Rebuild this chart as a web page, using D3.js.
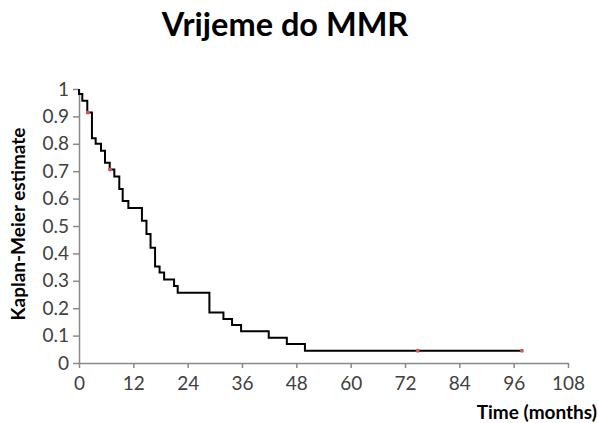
<!DOCTYPE html>
<html><head><meta charset="utf-8">
<script src="https://cdn.jsdelivr.net/npm/d3@7"></script>
<style>body{margin:0;background:#fff}svg{display:block}</style>
</head><body>
<svg id="c" width="598" height="423"></svg>
<script>
const eventTimes = [0, 0.73, 1.83, 2.86, 3.68, 4.86, 5.74, 6.78, 7.8, 8.9, 9.65, 10.9, 13.9, 14.9, 15.8, 16.8, 17.8, 18.8, 21.0, 21.8, 28.8, 31.9, 33.8, 35.8, 41.9, 45.9, 49.9];
const survival   = [0.982, 0.957, 0.914, 0.82, 0.80, 0.775, 0.731, 0.706, 0.681, 0.635, 0.591, 0.566, 0.519, 0.471, 0.421, 0.352, 0.330, 0.305, 0.281, 0.256, 0.184, 0.161, 0.139, 0.116, 0.092, 0.069, 0.045];
const endTime = 97.8;
const censorTimes = [1.95, 6.85, 74.8, 97.8];
const xTicks = [0, 12, 24, 36, 48, 60, 72, 84, 96, 108];
const yTicks = [0, 0.1, 0.2, 0.3, 0.4, 0.5, 0.6, 0.7, 0.8, 0.9, 1];

const svg = d3.select("#c");
const x = d3.scaleLinear().domain([0, 108]).range([79, 568]);
const y = d3.scaleLinear().domain([0, 1]).range([363, 89]);
const font = "Lato, 'Open Sans', sans-serif";
const axisCol = "#898989";

// Title
svg.append("text").attr("x", 285).attr("y", 36).attr("text-anchor", "middle")
  .attr("font-family", font).attr("font-weight", "bold").attr("font-size", 32.5)
  .attr("fill", "#000").text("Vrijeme do MMR");

// X axis
const gx = svg.append("g").attr("transform", `translate(0,${y(0)})`)
  .call(d3.axisBottom(x).tickValues(xTicks).tickSize(5).tickSizeOuter(0).tickPadding(9).tickFormat(d3.format("d")));
// Y axis
const gy = svg.append("g").attr("transform", `translate(${x(0)},0)`)
  .call(d3.axisLeft(y).tickValues(yTicks).tickSize(6).tickSizeOuter(0).tickPadding(4).tickFormat(d => d === 0 || d === 1 ? String(d) : d3.format(".1f")(d)));
[gx, gy].forEach(g => {
  g.select(".domain").attr("stroke", axisCol).attr("stroke-width", 1.5);
  g.selectAll(".tick line").attr("stroke", axisCol).attr("stroke-width", 1.5);
  g.selectAll(".tick text").attr("font-family", font).attr("font-size", 19).attr("fill", "#404040");
});

// Axis titles
svg.append("text").attr("x", 597).attr("y", 419).attr("text-anchor", "end")
  .attr("font-family", font).attr("font-weight", "bold").attr("font-size", 19)
  .attr("fill", "#000").text("Time (months)");
svg.append("text").attr("transform", `translate(25,224) rotate(-90)`).attr("text-anchor", "middle")
  .attr("font-family", font).attr("font-weight", "bold").attr("font-size", 19)
  .attr("fill", "#000").text("Kaplan-Meier estimate");

// KM step data
const pts = [[0, 1]];
eventTimes.forEach((t, i) => pts.push([t, survival[i]]));
pts.push([endTime, survival[survival.length - 1]]);
const line = d3.line().x(d => x(d[0])).y(d => y(d[1])).curve(d3.curveStepAfter);
svg.append("path").datum(pts).attr("d", line).attr("fill", "none")
  .attr("stroke", "#000").attr("stroke-width", 2);

function survAt(t) {
  let s = 1;
  eventTimes.forEach((et, i) => { if (et <= t) s = survival[i]; });
  return s;
}
svg.selectAll("circle.cens").data(censorTimes).join("circle").attr("class", "cens")
  .attr("cx", d => x(d)).attr("cy", d => y(survAt(d))).attr("r", 2)
  .attr("fill", "#d9534f");
</script>
</body></html>
